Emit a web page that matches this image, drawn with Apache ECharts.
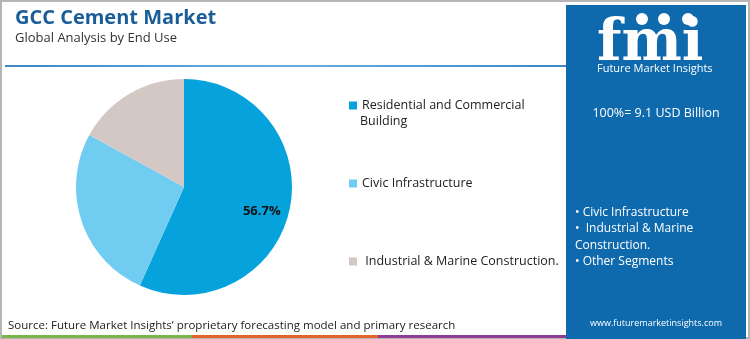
<!DOCTYPE html>
<html>
<head>
<meta charset="utf-8">
<script src="https://cdn.jsdelivr.net/npm/echarts@6/dist/echarts.min.js"></script>
<style>
html,body{margin:0;padding:0;background:#fff;}
#c{width:750px;height:339px;}
</style>
</head>
<body>
<div id="c"></div>
<script>
const categories = ['Residential and Commercial Building', 'Civic Infrastructure', 'Industrial & Marine Construction.'];
const shares = [56.7, 26.3, 17.0];
const legendLabels = ['Residential and Commercial', 'Civic Infrastructure', ' Industrial & Marine Construction.'];
const legendContinuation = 'Building';
const totalValue = 9.1;
const panelBullets = ['• Civic Infrastructure', '•  Industrial & Marine', 'Construction.', '• Other Segments'];

const sliceColors = ['#06a2dc', '#70cdf1', '#d4c8c4'];
const FONT = '"Open Sans", "Noto Sans", sans-serif';

const chart = echarts.init(document.getElementById('c'), null, {renderer: 'canvas'});

const legendTops = [94, 172, 250];
const legends = categories.map((name, i) => ({
  data: [name],
  orient: 'vertical',
  left: 344,
  top: legendTops[i],
  icon: 'rect',
  itemWidth: 8,
  itemHeight: 8,
  itemGap: 0,
  selectedMode: false,
  formatter: () => legendLabels[i],
  textStyle: {fontFamily: FONT, fontSize: 12.5, color: '#222'}
}));

const option = {
  backgroundColor: '#ffffff',
  animation: false,
  title: {
    text: 'GCC Cement Market',
    subtext: 'Global Analysis by End Use',
    left: 10,
    top: 3,
    itemGap: 4,
    textStyle: {fontFamily: FONT, fontSize: 20, fontWeight: 'bold', color: '#1b5d99'},
    subtextStyle: {fontFamily: FONT, fontSize: 13, color: '#333'}
  },
  legend: legends,
  series: [{
    type: 'pie',
    center: [184, 187],
    radius: [0, 108],
    startAngle: 90,
    clockwise: true,
    silent: true,
    labelLine: {show: false},
    data: categories.map((name, i) => ({
      name: name,
      value: shares[i],
      itemStyle: {color: sliceColors[i]},
      label: i === 0 ? {
        show: true,
        position: 'inside',
        formatter: (p) => p.value.toFixed(1) + '%',
        fontFamily: FONT,
        fontSize: 13,
        fontWeight: 'bold',
        color: '#111'
      } : {show: false}
    })),
    labelLayout: (params) => params.dataIndex === 0 ? {dx: 22, dy: 12} : {}
  }],
  graphic: [
    // outer border
    {type: 'rect', shape: {x: 1, y: 1, width: 748, height: 337}, style: {fill: 'none', stroke: '#b5b5b5', lineWidth: 2}, z: 0},
    // legend continuation line
    {type: 'text', x: 360, y: 121,
      style: {text: legendContinuation, fontFamily: FONT, fontSize: 12.5, fill: '#222', verticalAlign: 'middle'}},
    // divider line
    {type: 'rect', shape: {x: 5, y: 65, width: 561, height: 2},
      style: {fill: new echarts.graphic.LinearGradient(0, 0, 1, 0, [
        {offset: 0, color: '#3f86c6'}, {offset: 0.5, color: '#6aaee0'}, {offset: 1, color: '#3f86c6'}])}},
    // bottom colored stripes
    {type: 'rect', shape: {x: 2, y: 335, width: 190, height: 3}, style: {fill: '#7ab648'}},
    {type: 'rect', shape: {x: 192, y: 335, width: 186, height: 3}, style: {fill: '#e0632b'}},
    {type: 'rect', shape: {x: 378, y: 335, width: 188, height: 3}, style: {fill: '#8e3c96'}},
    // right panel
    {type: 'rect', shape: {x: 566, y: 5, width: 180, height: 334}, style: {fill: '#0f6aad'}, z: 1},
    // logo
    {type: 'text', left: 597, top: 17, z: 2,
      style: {text: 'fmi', fontFamily: '"DejaVu Serif", serif', fontSize: 57, fontWeight: 'bold', fill: '#ffffff', letterSpacing: 1}},
    {type: 'group', z: 3, children: [0,1,2,3,4,5,6,7,8].map(k => ({
      type: 'rect', shape: {x: 596, y: 33 + k * 3.6, width: 108, height: 1.2}, style: {fill: '#0f6aad'}}))},
    {type: 'circle', shape: {cx: 642, cy: 19, r: 6}, style: {fill: '#ffffff'}, z: 4},
    {type: 'circle', shape: {cx: 664, cy: 19, r: 6}, style: {fill: '#ffffff'}, z: 4},
    {type: 'circle', shape: {cx: 688, cy: 19, r: 6}, style: {fill: '#ffffff'}, z: 4},
    {type: 'text', left: 597, top: 63, z: 4,
      style: {text: 'Future Market Insights', fontFamily: FONT, fontSize: 11, fill: '#ffffff'}},
    {type: 'text', x: 656, y: 113, z: 4,
      style: {text: '100%= ' + totalValue + ' USD Billion', fontFamily: FONT, fontSize: 12.5, fill: '#ffffff', align: 'center', verticalAlign: 'middle'}},
    {type: 'text', x: 575, y: 204, z: 4,
      style: {text: panelBullets.join('\n'), fontFamily: FONT, fontSize: 12, lineHeight: 16.5, fill: '#ffffff'}},
    {type: 'text', x: 656, y: 323, z: 4,
      style: {text: 'www.futuremarketinsights.com', fontFamily: FONT, fontSize: 9, fill: '#ffffff', align: 'center', verticalAlign: 'middle'}},
    // source
    {type: 'text', x: 8, y: 326,
      style: {text: 'Source: Future Market Insights\u2019 proprietary forecasting model and primary research', fontFamily: FONT, fontSize: 11.5, fill: '#222', verticalAlign: 'middle'}}
  ]
};
chart.setOption(option);
</script>
</body>
</html>
